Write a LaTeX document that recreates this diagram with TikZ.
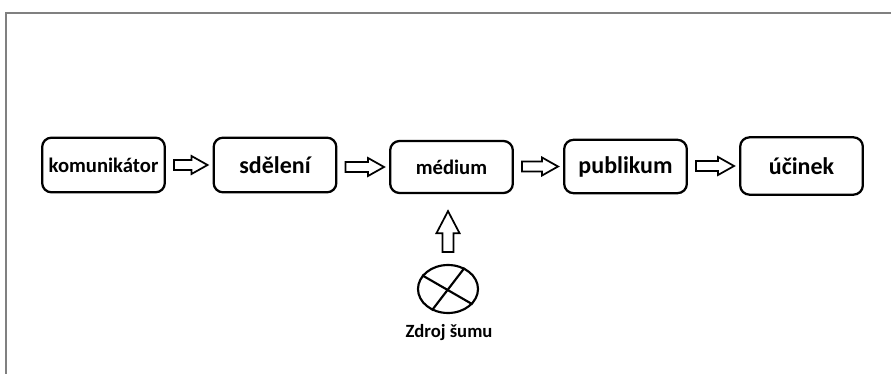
\documentclass[tikz,border=0pt]{standalone}
\usepackage{fontspec}
\setmainfont{Carlito}
\usetikzlibrary{calc,shapes.geometric}

\tikzset{
  stage/.style={draw, line width=1.7pt, rounded corners=7pt, inner sep=0pt,
    minimum width=92pt, minimum height=41pt},
  hollow/.style={draw, line width=1.3pt, line join=miter, fill=white},
  big/.style={font=\fontsize{15.5}{18}\selectfont\bfseries},
  bigb/.style={font=\fontsize{18}{20}\selectfont\bfseries},
}

% hollow block arrow between two boxes in a row
\newcommand\flowarrow[2]{%
  \draw[hollow] ($(#1.east |- #2.west)+(8,-5)$) -- ($(#2.west)+(-21,-5)$)
    -- ($(#2.west)+(-21,-9)$) -- ($(#2.west)+(-5,0)$)
    -- ($(#2.west)+(-21,9)$) -- ($(#2.west)+(-21,5)$)
    -- ($(#1.east |- #2.west)+(8,5)$) -- cycle;}

\begin{document}
\begin{tikzpicture}[x=0.75pt, y=-0.75pt]
  \useasboundingbox[fill=white] (0,0) rectangle (891,374);
  \draw[black!50, line width=1.1pt] (6,374) -- (6,13) -- (891,13);

  \node[stage, big] (komunikator) at (103.5,165) {komunikátor};
  \node[stage, bigb] (sdeleni) at (275,165) {sdělení};
  \node[stage, big, minimum height=39pt] (medium) at (451.5,167) {médium};
  \node[stage, bigb, minimum height=40pt] (publikum) at (625.5,166.5) {publikum};
  \node[stage, bigb, minimum height=43pt] (ucinek) at (801.5,166) {účinek};

  \flowarrow{komunikator}{sdeleni}
  \flowarrow{sdeleni}{medium}
  \flowarrow{medium}{publikum}
  \flowarrow{publikum}{ucinek}

  \node[ellipse, draw, line width=1.6pt, inner sep=0pt,
    minimum width=45pt, minimum height=36pt] (sum) at (448,289) {};
  \draw[line width=1.6pt] (sum.152) -- (sum.-32);
  \draw[line width=1.6pt] (sum.52) -- (sum.233);
  \node[font=\fontsize{14}{16}\selectfont\bfseries] (zdroj) at (449,333) {Zdroj šumu};

  \draw[hollow] ($(sum.north)+(-5.5,-12)$) -- ($(medium.south -| sum.north)+(-5.5,39)$)
    -- ($(medium.south -| sum.north)+(-11.5,39)$) -- ($(medium.south -| sum.north)+(0,17)$)
    -- ($(medium.south -| sum.north)+(11.5,39)$) -- ($(medium.south -| sum.north)+(5.5,39)$)
    -- ($(sum.north)+(5.5,-12)$) -- cycle;
\end{tikzpicture}
\end{document}
